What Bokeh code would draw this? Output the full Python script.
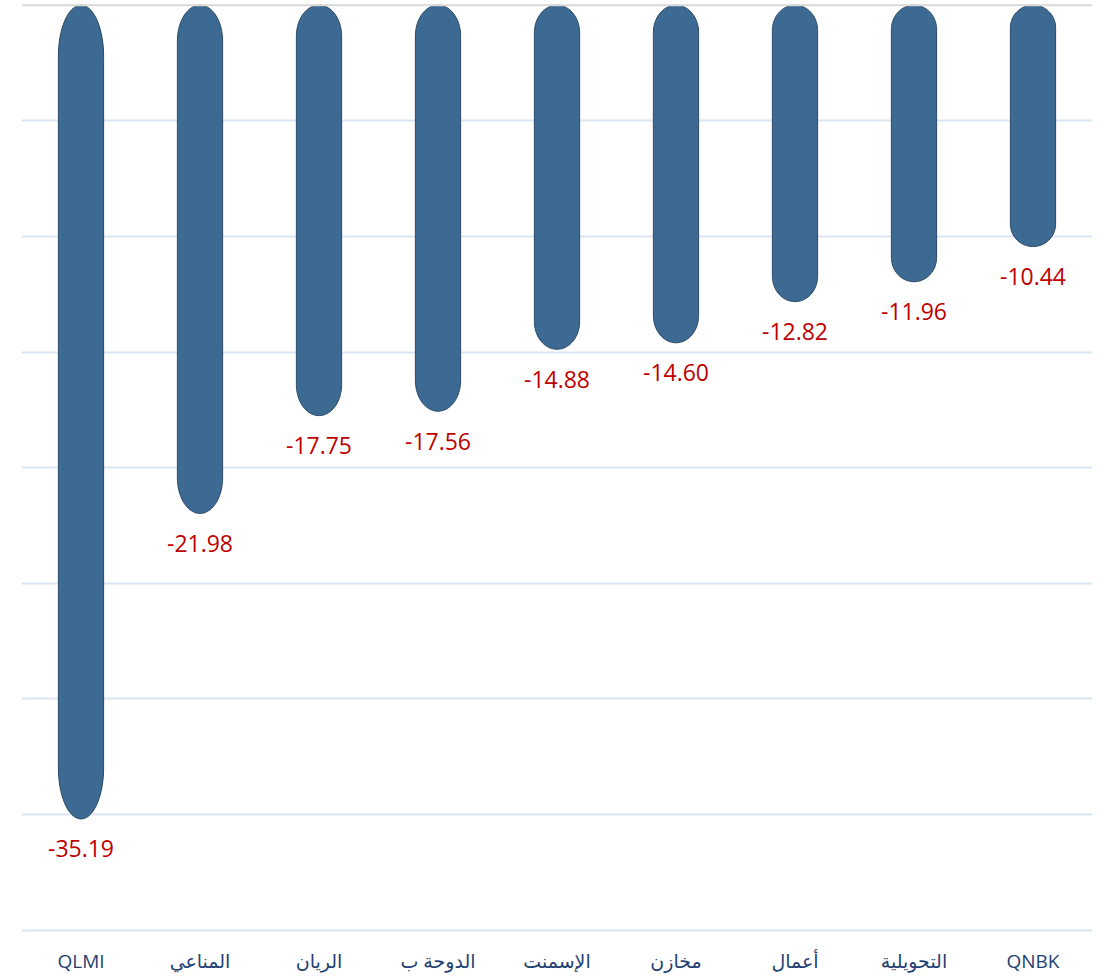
import numpy as np
from bokeh.plotting import figure
from bokeh.models import ColumnDataSource, FixedTicker, Range1d, Span
from bokeh.core.properties import value
from bokeh.embed import file_html
from bokeh.resources import INLINE

# ---- data ----
categories = ["QLMI", "المناعي", "الريان", "الدوحة ب", "الإسمنت", "مخازن", "أعمال", "التحويلية", "QNBK"]
values = [-35.19, -21.98, -17.75, -17.56, -14.88, -14.60, -12.82, -11.96, -10.44]
y_ticks = [-40, -35, -30, -25, -20, -15, -10, -5, 0]

# ---- style ----
BAR_FILL = "#3D6A92"
BAR_LINE = "#2B4A67"
LABEL_RED = "#C00000"
AXIS_BLUE = "#1F3F73"
GRID_BLUE = "#DCE6F2"

W, H = 1119, 977
FRAME_H = 932
p = figure(width=W, height=H, output_backend="svg", toolbar_location=None,
           x_range=Range1d(-0.5, len(categories) - 0.5),
           y_range=Range1d(-40.1, 0.2),
           min_border_left=21, min_border_right=27, min_border_top=0,
           min_border_bottom=H - FRAME_H)
p.outline_line_color = None
p.background_fill_color = "white"
p.border_fill_color = "white"

# grid
p.xgrid.visible = False
p.ygrid.ticker = FixedTicker(ticks=y_ticks[:-1])
p.ygrid.grid_line_color = GRID_BLUE
p.ygrid.grid_line_width = 2
p.add_layout(Span(location=0, dimension="width", line_color="#D9D9D9", line_width=2))

# capsule bars built from values
xs, ys = [], []
hw = 0.19
t = np.linspace(0, np.pi, 40)
for i, v in enumerate(values):
    c = 0.05 * abs(v) + 0.45
    top_x = i + hw * np.cos(t)
    top_y = -c + c * np.sin(t)
    bot_x = i - hw * np.cos(t)
    bot_y = v + c - c * np.sin(t)
    xs.append(list(top_x) + list(bot_x))
    ys.append(list(top_y) + list(bot_y))
p.patches(xs, ys, fill_color=BAR_FILL, line_color=BAR_LINE, line_width=1)

# value labels
src = ColumnDataSource(dict(x=list(range(len(values))), y=values,
                            t=["{:.2f}".format(v) for v in values]))
p.text(x="x", y="y", text="t", source=src, text_align="center", text_baseline="middle",
       y_offset=30, text_color=LABEL_RED, text_font=value("Open Sans"), text_font_size="23px")

# axes
p.yaxis.visible = False
p.xaxis.ticker = FixedTicker(ticks=list(range(len(categories))))
p.xaxis.major_label_overrides = {i: c for i, c in enumerate(categories)}
p.xaxis.axis_line_color = None
p.xaxis.major_tick_line_color = None
p.xaxis.minor_tick_line_color = None
p.xaxis.major_tick_out = 0
p.xaxis.major_tick_in = 0
p.xaxis.major_label_standoff = 15
p.xaxis.major_label_text_font = "Open Sans, DejaVu Sans"
p.xaxis.major_label_text_font_size = "19px"
p.xaxis.major_label_text_color = AXIS_BLUE

open("out.html", "w").write(file_html(p, INLINE))
